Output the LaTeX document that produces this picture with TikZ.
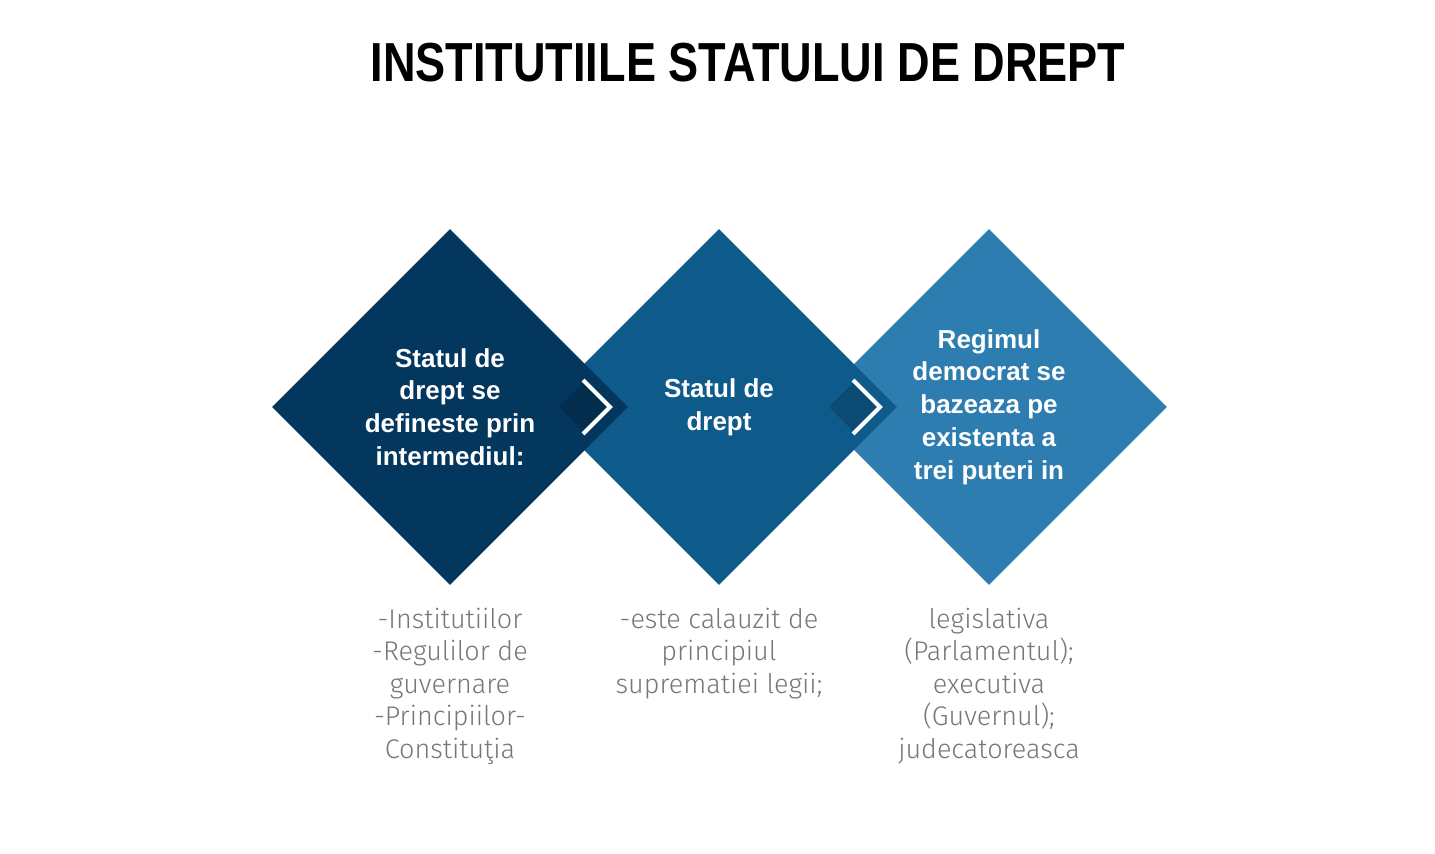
\documentclass[tikz,border=0pt]{standalone}
\usepackage{fontspec}
\setmainfont{Fira Sans}
\newfontfamily\titlefont{Liberation Sans}
\newfontfamily\stagefont{Liberation Sans}
\newfontfamily\notefont{Fira Sans Light}
\usepackage{graphicx}
\usepackage{tikz}
\usetikzlibrary{shapes.geometric, positioning, calc}
\definecolor{state-navy}{HTML}{04375E}
\definecolor{state-blue}{HTML}{0E5A8A}
\definecolor{state-sky}{HTML}{2E7DB1}
\definecolor{note-gray}{HTML}{777777}

\begin{document}
\begin{tikzpicture}[x=0.5pt, y=-0.5pt,
    stage/.style={diamond, minimum size=178pt, inner sep=0pt, text=white, align=center,
                  font=\stagefont\bfseries\fontsize{13}{16.4}\selectfont},
    notch/.style={diamond, minimum size=27pt, inner sep=0pt, fill=black, fill opacity=0.16},
    chevron/.style={draw=white, line width=2pt},
    note/.style={align=center, text=note-gray, inner sep=0pt,
                 font=\notefont\fontsize{13.5}{16.25}\selectfont}]
  \useasboundingbox (0,0) rectangle (1435,854);

  \node (title) at (748,63) {\titlefont\bfseries\fontsize{27.5}{30}\selectfont
    \scalebox{0.82}[1]{INSTITUTIILE STATULUI DE DREPT}};

  \node[stage, fill=state-sky] (d3) at (989,407) {Regimul\\democrat se\\bazeaza pe\\existenta a\\trei puteri in};
  \node[stage, fill=state-blue] (d2) at (719,407) {Statul de\\drept};
  \node[stage, fill=state-navy] (d1) at (450,407) {Statul de\\drept se\\defineste prin\\intermediul:};

  \node[notch] (c1) at (586,407) {};
  \node[notch] (c2) at (856,407) {};
  \draw[chevron] ($(c1)+(-3,-27)$) -- ++(27,27) -- ++(-27,27);
  \draw[chevron] ($(c2)+(-3,-27)$) -- ++(27,27) -- ++(-27,27);

  \node[note, below=11pt of d1] (n1) {-Institutiilor\\-Regulilor de\\guvernare\\-Principiilor-\\Constituţia};
  \node[note, below=11pt of d2] (n2) {-este calauzit de\\principiul\\suprematiei legii;};
  \node[note, below=11pt of d3] (n3) {legislativa\\(Parlamentul);\\executiva\\(Guvernul);\\judecatoreasca};
\end{tikzpicture}
\end{document}
